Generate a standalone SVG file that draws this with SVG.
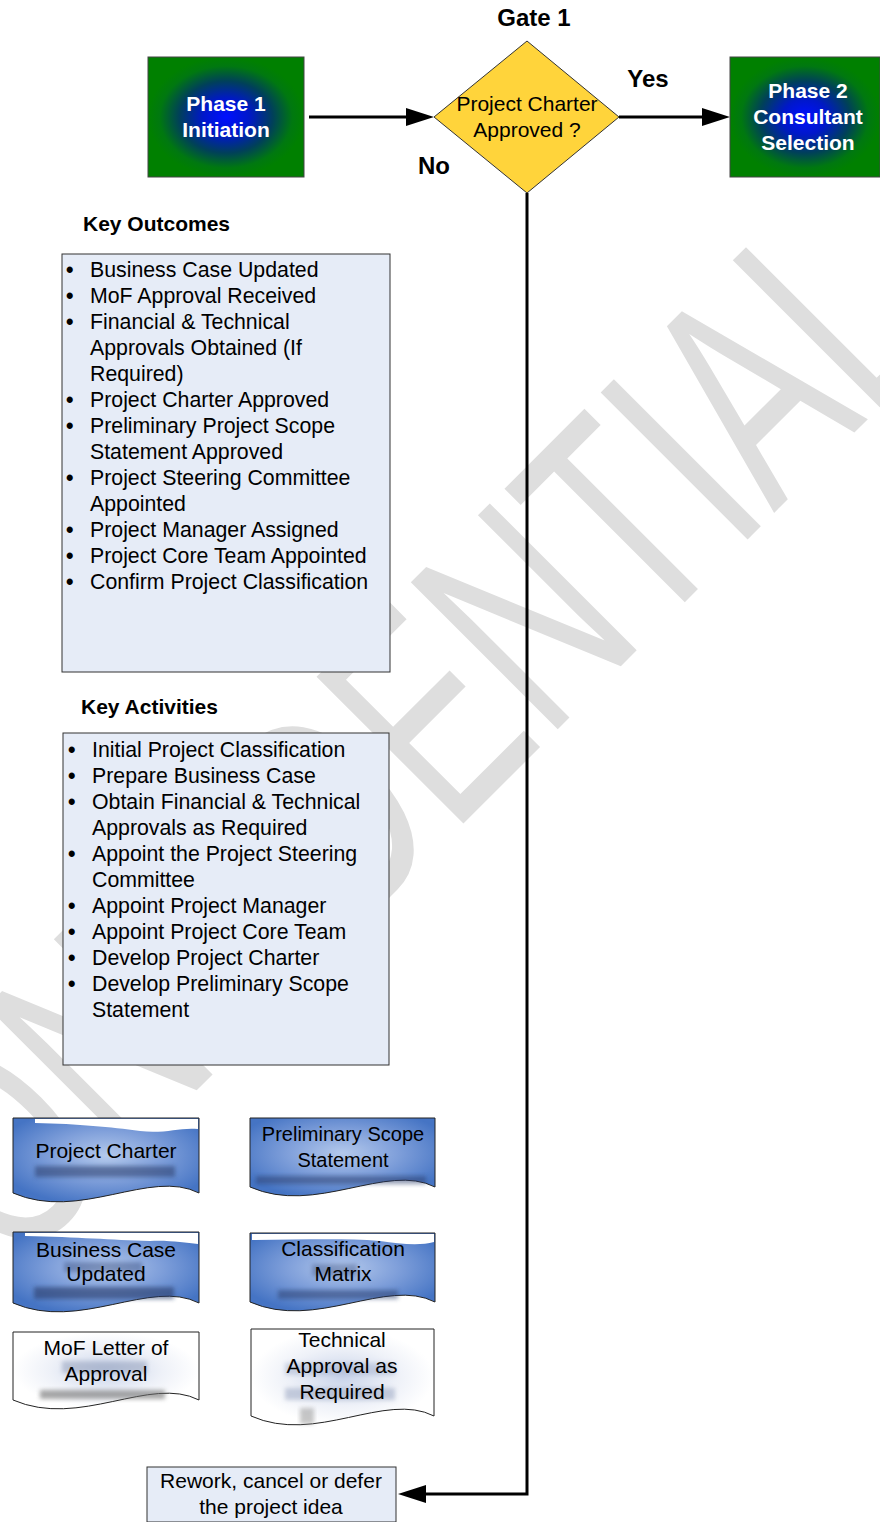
<svg xmlns="http://www.w3.org/2000/svg" width="880" height="1522" viewBox="0 0 880 1522">
<style>
text{font-family:"Liberation Sans",Arial,sans-serif;fill:#000}
.lbl{font-size:24px;font-weight:bold}
.hd{font-size:21px;font-weight:bold}
.li{font-size:21.3px}
.bu{font-weight:bold}
.ph{font-size:21px;font-weight:bold;fill:#fff;text-anchor:middle}
.dt{font-size:21px;text-anchor:middle}
.box{fill:#e6ecf7;stroke:#333;stroke-width:1}
.doc{stroke:#222;stroke-width:1}
.con{fill:none;stroke:#000;stroke-width:3}
.wm{font-size:302px;fill:#dedede}
.top{fill:#fff}
.smear{filter:url(#bl)}
</style>
<defs>
<radialGradient id="phg" cx="50%" cy="50%" r="50%">
<stop offset="0" stop-color="#0010ff"/>
<stop offset="0.3" stop-color="#0018c8"/>
<stop offset="0.6" stop-color="#00405a"/>
<stop offset="0.85" stop-color="#007810"/>
<stop offset="1" stop-color="#008000"/>
</radialGradient>
<radialGradient id="blue" cx="50%" cy="45%" r="60%">
<stop offset="0" stop-color="#b4c9ec"/>
<stop offset="0.5" stop-color="#7f9fda"/>
<stop offset="1" stop-color="#4574c4"/>
</radialGradient>
<radialGradient id="pale" cx="50%" cy="50%" r="50%">
<stop offset="0" stop-color="#c9d4ea"/>
<stop offset="0.6" stop-color="#eef1f8"/>
<stop offset="1" stop-color="#ffffff"/>
</radialGradient>
<filter id="bl" x="-20%" y="-50%" width="140%" height="200%"><feGaussianBlur stdDeviation="2"/></filter>
<marker id="ah" markerUnits="userSpaceOnUse" markerWidth="30" markerHeight="20" viewBox="0 0 30 20" refX="4" refY="10" orient="auto">
<path d="M0,1 L28,10 L0,19 Z" fill="#000"/>
</marker>
</defs>
<rect width="880" height="1522" fill="#fff"/>

<g id="watermark">
<text class="wm" transform="translate(-90,1377) rotate(-45) scale(0.662,1)" x="0" y="0">CONFIDENTIAL</text>
</g>

<g id="connectors">
<path class="con" d="M309,117 H410" marker-end="url(#ah)"/>
<path class="con" d="M619,117 H706" marker-end="url(#ah)"/>
<path class="con" d="M527,193 V1494 H422" marker-end="url(#ah)"/>
</g>

<g id="gate-label"><text class="lbl" x="534" y="26" text-anchor="middle">Gate 1</text></g>
<g id="yes-label"><text class="lbl" x="648" y="87" text-anchor="middle">Yes</text></g>
<g id="no-label"><text class="lbl" x="434" y="174" text-anchor="middle">No</text></g>

<g id="phase1">
<rect x="148" y="57" width="156" height="120" fill="url(#phg)" stroke="#444" stroke-width="1"/>
<text class="ph" x="226" y="111">Phase 1</text>
<text class="ph" x="226" y="137">Initiation</text>
</g>

<g id="gate1">
<path d="M527,41 L619,117 L527,193 L434,117 Z" fill="#ffd43b" stroke="#333" stroke-width="1"/>
<text class="dt" x="527" y="111">Project Charter</text>
<text class="dt" x="527" y="137">Approved ?</text>
</g>

<g id="phase2">
<rect x="730" y="57" width="150" height="120" fill="url(#phg)" stroke="#444" stroke-width="1"/>
<text class="ph" x="808" y="98">Phase 2</text>
<text class="ph" x="808" y="124">Consultant</text>
<text class="ph" x="808" y="150">Selection</text>
</g>

<g id="key-outcomes">
<text class="hd" x="83" y="231">Key Outcomes</text>
<rect class="box" x="62" y="254" width="328" height="418"/>
<text class="li">
<tspan class="bu" x="66" y="277">•</tspan><tspan x="90" y="277">Business Case Updated</tspan>
<tspan class="bu" x="66" y="303">•</tspan><tspan x="90" y="303">MoF Approval Received</tspan>
<tspan class="bu" x="66" y="329">•</tspan><tspan x="90" y="329">Financial &amp; Technical</tspan>
<tspan x="90" y="355">Approvals Obtained (If</tspan>
<tspan x="90" y="381">Required)</tspan>
<tspan class="bu" x="66" y="407">•</tspan><tspan x="90" y="407">Project Charter Approved</tspan>
<tspan class="bu" x="66" y="433">•</tspan><tspan x="90" y="433">Preliminary Project Scope</tspan>
<tspan x="90" y="459">Statement Approved</tspan>
<tspan class="bu" x="66" y="485">•</tspan><tspan x="90" y="485">Project Steering Committee</tspan>
<tspan x="90" y="511">Appointed</tspan>
<tspan class="bu" x="66" y="537">•</tspan><tspan x="90" y="537">Project Manager Assigned</tspan>
<tspan class="bu" x="66" y="563">•</tspan><tspan x="90" y="563">Project Core Team Appointed</tspan>
<tspan class="bu" x="66" y="589">•</tspan><tspan x="90" y="589">Confirm Project Classification</tspan>
</text>
</g>

<g id="key-activities">
<text class="hd" x="81" y="714">Key Activities</text>
<rect class="box" x="63" y="733" width="326" height="332"/>
<text class="li">
<tspan class="bu" x="68" y="757">•</tspan><tspan x="92" y="757">Initial Project Classification</tspan>
<tspan class="bu" x="68" y="783">•</tspan><tspan x="92" y="783">Prepare Business Case</tspan>
<tspan class="bu" x="68" y="809">•</tspan><tspan x="92" y="809">Obtain Financial &amp; Technical</tspan>
<tspan x="92" y="835">Approvals as Required</tspan>
<tspan class="bu" x="68" y="861">•</tspan><tspan x="92" y="861">Appoint the Project Steering</tspan>
<tspan x="92" y="887">Committee</tspan>
<tspan class="bu" x="68" y="913">•</tspan><tspan x="92" y="913">Appoint Project Manager</tspan>
<tspan class="bu" x="68" y="939">•</tspan><tspan x="92" y="939">Appoint Project Core Team</tspan>
<tspan class="bu" x="68" y="965">•</tspan><tspan x="92" y="965">Develop Project Charter</tspan>
<tspan class="bu" x="68" y="991">•</tspan><tspan x="92" y="991">Develop Preliminary Scope</tspan>
<tspan x="92" y="1017">Statement</tspan>
</text>
</g>

<g id="doc-project-charter">
<path class="doc" fill="url(#blue)" d="M13,1118 H199 V1193 C150,1168 80,1222 13,1193 Z"/>
<path class="top" d="M35,1119 H198 V1129 C180,1127 165,1134 140,1131 C110,1127 80,1124 35,1123 Z"/>
<rect class="smear" x="35" y="1166" width="140" height="11" fill="#2b3d6b" opacity="0.55"/>
<text class="dt" x="106" y="1158">Project Charter</text>
</g>

<g id="doc-preliminary-scope">
<path class="doc" fill="url(#blue)" d="M250,1118 H435 V1187 C386,1162 316,1216 250,1187 Z"/>
<rect class="smear" x="256" y="1176" width="170" height="8" fill="#2b3d6b" opacity="0.5"/>
<text class="dt" x="343" y="1141" style="font-size:20px">Preliminary Scope</text>
<text class="dt" x="343" y="1167" style="font-size:20px">Statement</text>
</g>

<g id="doc-business-case">
<path class="doc" fill="url(#blue)" d="M13,1232 H199 V1303 C150,1278 80,1332 13,1303 Z"/>
<path class="top" d="M25,1233 H198 V1244 C185,1243 170,1240 150,1241 C110,1240 80,1237 25,1236 Z"/>
<rect class="smear" x="64" y="1262" width="78" height="10" fill="#3a4f80" opacity="0.45"/>
<rect class="smear" x="34" y="1287" width="140" height="12" fill="#2b3d6b" opacity="0.6"/>
<text class="dt" x="106" y="1257">Business Case</text>
<text class="dt" x="106" y="1281">Updated</text>
</g>

<g id="doc-classification">
<path class="doc" fill="url(#blue)" d="M250,1233 H435 V1302 C386,1277 316,1331 250,1302 Z"/>
<path class="top" d="M252,1234 H434 V1242 C420,1246 400,1244 380,1241 C340,1238 300,1240 252,1240 Z"/>
<rect class="smear" x="312" y="1264" width="45" height="12" fill="#3a4f80" opacity="0.4"/>
<rect class="smear" x="278" y="1290" width="120" height="9" fill="#2b3d6b" opacity="0.5"/>
<text class="dt" x="343" y="1256">Classification</text>
<text class="dt" x="343" y="1281">Matrix</text>
</g>

<g id="doc-mof-letter">
<path class="doc" fill="url(#pale)" d="M13,1332 H199 V1400 C150,1375 80,1429 13,1400 Z"/>
<rect class="smear" x="62" y="1361" width="85" height="12" fill="#8f9bb8" opacity="0.5"/>
<rect class="smear" x="40" y="1390" width="125" height="9" fill="#707070" opacity="0.6"/>
<text class="dt" x="106" y="1355">MoF Letter of</text>
<text class="dt" x="106" y="1381">Approval</text>
</g>

<g id="doc-technical-approval">
<path class="doc" fill="url(#pale)" d="M251,1329 H434 V1416 C385,1391 316,1445 251,1416 Z"/>
<rect class="smear" x="285" y="1363" width="110" height="12" fill="#9aa8c8" opacity="0.45"/>
<rect class="smear" x="285" y="1388" width="110" height="12" fill="#8a98b8" opacity="0.45"/>
<rect class="smear" x="300" y="1408" width="14" height="16" fill="#909090" opacity="0.5"/>
<text class="dt" x="342" y="1347">Technical</text>
<text class="dt" x="342" y="1373">Approval as</text>
<text class="dt" x="342" y="1399">Required</text>
</g>

<g id="rework">
<rect class="box" x="147" y="1467" width="249" height="55"/>
<text class="dt" x="271" y="1488">Rework, cancel or defer</text>
<text class="dt" x="271" y="1514">the project idea</text>
</g>
</svg>
